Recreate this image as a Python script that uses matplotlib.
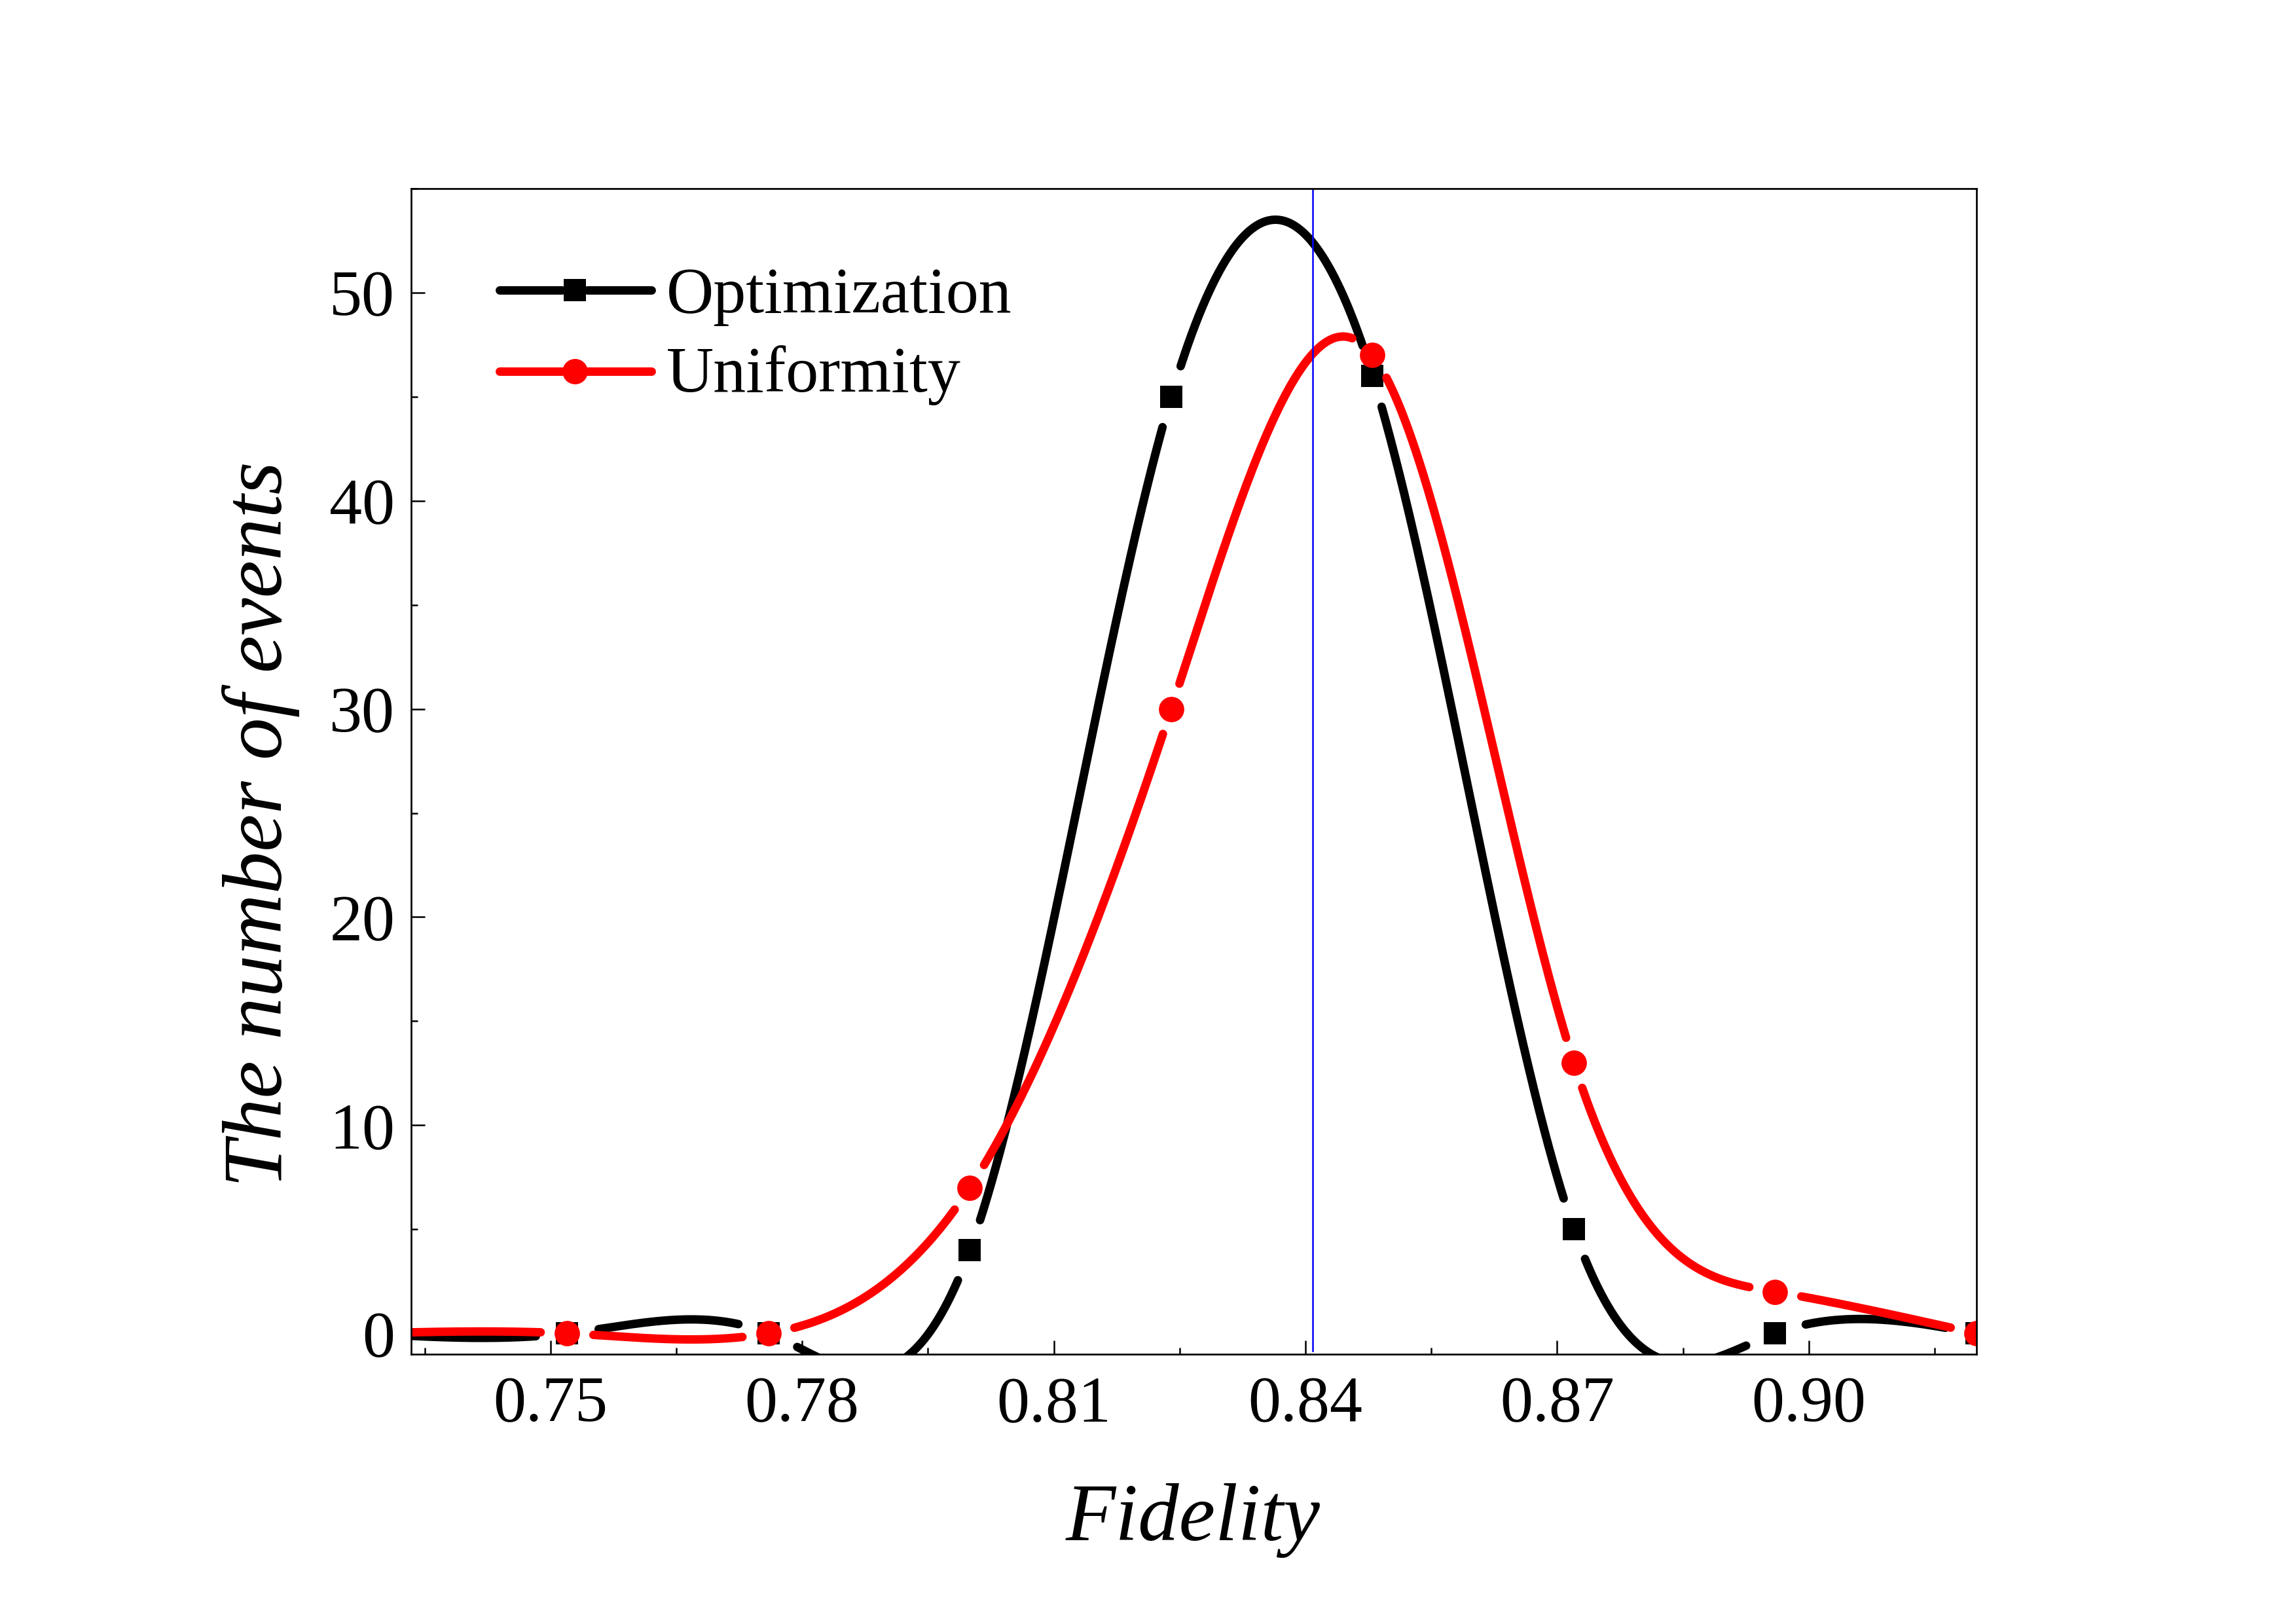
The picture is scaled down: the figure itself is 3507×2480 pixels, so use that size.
import numpy as np
import matplotlib
matplotlib.use("Agg")
import matplotlib.pyplot as plt
from matplotlib.ticker import MultipleLocator, FormatStrFormatter

# datos (el primer punto queda fuera del eje, a la izquierda)
fidelity = [0.728, 0.752, 0.776, 0.800, 0.824, 0.848, 0.872, 0.896, 0.920]
optimization = [0, 0, 0, 4, 45, 46, 5, 0, 0]
uniformity = [0, 0, 0, 7, 30, 47, 13, 2, 0]
fid_mark = 0.8409  # linea azul vertical

plt.rcParams['font.family'] = ['Liberation Serif', 'DejaVu Serif']

W, H = 3507, 2480
DPI = 300


def natural_spline(x, y, xs):
    # spline cubico natural (como el "spline" de Origin)
    x = np.asarray(x, float)
    y = np.asarray(y, float)
    n = len(x)
    h = np.diff(x)
    A = np.zeros((n, n))
    r = np.zeros(n)
    A[0, 0] = 1
    A[-1, -1] = 1
    for i in range(1, n - 1):
        A[i, i - 1] = h[i - 1]
        A[i, i] = 2 * (h[i - 1] + h[i])
        A[i, i + 1] = h[i]
        r[i] = 3 * ((y[i + 1] - y[i]) / h[i] - (y[i] - y[i - 1]) / h[i - 1])
    c = np.linalg.solve(A, r)
    b = (y[1:] - y[:-1]) / h - h * (2 * c[:-1] + c[1:]) / 3
    d = (c[1:] - c[:-1]) / (3 * h)
    idx = np.clip(np.searchsorted(x, xs) - 1, 0, n - 2)
    dx = xs - x[idx]
    return y[idx] + b[idx] * dx + c[idx] * dx ** 2 + d[idx] * dx ** 3


fig = plt.figure(figsize=(W / DPI, H / DPI), dpi=DPI)
L, R, T, B = 628, 3019, 288, 2068
ax = fig.add_axes([L / W, 1 - B / H, (R - L) / W, (B - T) / H])
ax.set_xlim(0.7334, 0.92)
ax.set_ylim(-1, 55)


def gapped(x, y, r_px):
    # corta la curva cerca de cada simbolo (gap to symbol)
    xs = np.linspace(x[0], x[-1], 4000)
    ys = natural_spline(x, y, xs)
    pts = ax.transData.transform(np.column_stack([xs, ys]))
    mk = ax.transData.transform(np.column_stack([x, y]))
    mask = np.zeros(len(xs), bool)
    for m in mk[1:]:
        mask |= np.hypot(pts[:, 0] - m[0], pts[:, 1] - m[1]) < r_px
    ys = ys.copy()
    ys[mask] = np.nan
    return xs, ys


lw = 3.1
xs, ys = gapped(fidelity, optimization, 48)
ax.plot(xs, ys, color='black', lw=lw, solid_capstyle='round')
ax.plot(fidelity, optimization, 's', color='black', ms=8.2, mew=0)
xs, ys = gapped(fidelity, uniformity, 40)
ax.plot(xs, ys, color='#FF0000', lw=lw, solid_capstyle='round')
ax.plot(fidelity, uniformity, 'o', color='#FF0000', ms=9.3, mew=0)

ax.axvline(fid_mark, ymin=0.003, ymax=1, color='#0000FF', lw=0.6)

# ejes
for s in ax.spines.values():
    s.set_linewidth(0.65)
ax.xaxis.set_major_locator(MultipleLocator(0.03))
ax.xaxis.set_minor_locator(MultipleLocator(0.015))
ax.xaxis.set_major_formatter(FormatStrFormatter('%.2f'))
ax.yaxis.set_major_locator(MultipleLocator(10))
ax.yaxis.set_minor_locator(MultipleLocator(5))
ax.tick_params(which='both', direction='in', top=False, right=False, width=0.6, labelsize=24)
ax.tick_params(which='major', length=5)
ax.tick_params(which='minor', length=2.4)
ax.tick_params(axis='x', pad=8)
ax.tick_params(axis='y', pad=6)

ax.set_xlabel('Fidelity', fontsize=30, style='italic')
ax.xaxis.label.set_va('baseline')
ax.xaxis.set_label_coords((1822 - L) / (R - L), -(2352 - B) / (B - T))
ax.set_ylabel('The number of events', fontsize=31, style='italic')
ax.yaxis.label.set_va('baseline')
ax.yaxis.set_label_coords((430 - L) / (R - L), (B - 1259) / (B - T))


# leyenda dibujada a mano (linea - simbolo - linea)
def fx(px):
    return px / W


def fy(py):
    return 1 - py / H


rows = [('Optimization', 'black', 's', 8.2, 443, 477),
        ('Uniformity', '#FF0000', 'o', 9.3, 567, 598)]
for name, col, mk, ms, yl, yb in rows:
    for a, b in [(763, 858), (897, 995)]:
        fig.add_artist(plt.Line2D([fx(a), fx(b)], [fy(yl), fy(yl)], color=col, lw=lw,
                                  solid_capstyle='round', transform=fig.transFigure))
    fig.add_artist(plt.Line2D([fx(878)], [fy(yl)], marker=mk, color=col, ms=ms, mew=0,
                              transform=fig.transFigure))
    fig.text(fx(1018), fy(yb), name, fontsize=24, va='baseline', ha='left')

fig.savefig('out.png', dpi=DPI)
